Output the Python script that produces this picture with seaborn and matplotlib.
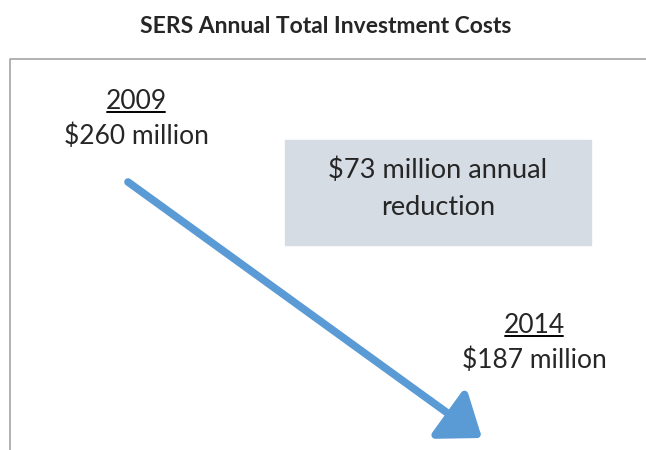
import matplotlib.pyplot as plt
import seaborn as sns
from matplotlib.patches import Rectangle

# data
years = [2009, 2014]
costs = [260, 187]
reduction = costs[0] - costs[1]
title = "SERS Annual Total Investment Costs"

sns.set_style("white")
plt.rcParams["font.family"] = ["Lato", "DejaVu Sans"]

fig = plt.figure(figsize=(6.46, 4.5), dpi=100)
ax = fig.add_axes([0, 0, 1, 1])
ax.set_xlim(0, 646)
ax.set_ylim(450, 0)
ax.axis("off")

# frame (left and top only visible)
ax.plot([10, 10, 646], [450, 59, 59], color="#a6a6a6", lw=1.2)

ax.text(326, 33, title, ha="center", va="baseline",
        fontsize=16.5, fontweight="bold")

# shaded note box
ax.add_patch(Rectangle((285, 140), 306, 105, color="#d6dce4", zorder=1))
ax.text(438, 178, f"${reduction} million annual", ha="center",
        va="baseline", fontsize=19.5, zorder=2)
ax.text(438, 215, "reduction", ha="center", va="baseline",
        fontsize=19.5, zorder=2)

# arrow from 2009 to 2014
ax.annotate("", xy=(482, 438), xytext=(128, 182),
            arrowprops=dict(arrowstyle="-|>,head_length=0.6,head_width=0.45",
                            lw=5.5, color="#5b9bd5",
                            mutation_scale=40, shrinkA=0, shrinkB=0),
            zorder=3)

pos = {2009: (136, 109), 2014: (534, 333)}
for yr, c in zip(years, costs):
    x, y = pos[yr]
    ax.text(x, y, str(yr), ha="center", va="baseline", fontsize=19)
    ax.plot([x - 29, x + 29], [y + 3, y + 3], color="black", lw=1.4)
    ax.text(x, y + 35, f"${c} million", ha="center", va="baseline",
            fontsize=19)

fig.savefig("out.png", dpi=100)
